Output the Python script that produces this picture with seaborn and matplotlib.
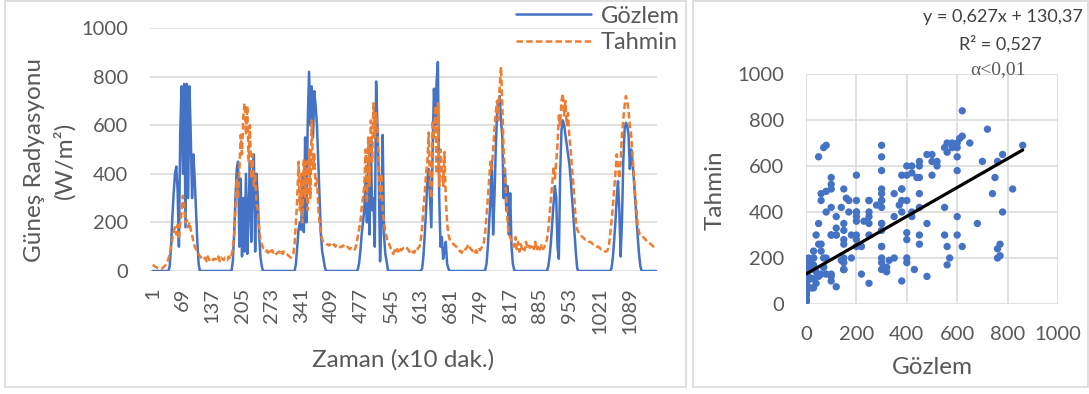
import numpy as np
import pandas as pd
import matplotlib
matplotlib.use("Agg")
import matplotlib.pyplot as plt
import seaborn as sns
from matplotlib.patches import Rectangle

# zaman ekseni: 10 dakikalik kayitlar, her 3. kayit alindi (8 gun x 48 nokta)
zaman = np.arange(1, 1152, 3)

# olculen (Gozlem) gunes radyasyonu, W/m2 - gun gun
gozlem = [
    # gun 1
    0, 0, 0, 0, 0, 0, 0, 0, 0, 0, 0, 0,
    0, 20, 100, 220, 320, 400, 430, 330, 100, 570, 760, 400,
    770, 180, 770, 300, 760, 560, 300, 480, 380, 250, 120, 30,
    0, 0, 0, 0, 0, 0, 0, 0, 0, 0, 0, 0,
    # gun 2
    0, 0, 0, 0, 0, 0, 0, 0, 0, 0, 0, 0,
    0, 40, 150, 300, 420, 450, 100, 380, 60, 300, 80, 400,
    70, 250, 450, 120, 350, 480, 80, 400, 300, 150, 60, 20,
    0, 0, 0, 0, 0, 0, 0, 0, 0, 0, 0, 0,
    # gun 3
    0, 0, 0, 0, 0, 0, 0, 0, 0, 0, 0, 0,
    0, 30, 100, 170, 200, 170, 400, 160, 550, 200, 620, 820,
    600, 760, 550, 740, 680, 600, 450, 300, 150, 80, 50, 15,
    0, 0, 0, 0, 0, 0, 0, 0, 0, 0, 0, 0,
    # gun 4
    0, 0, 0, 0, 0, 0, 0, 0, 0, 0, 0, 0,
    5, 30, 80, 150, 200, 250, 380, 200, 450, 150, 520, 250,
    300, 100, 780, 600, 400, 40, 200, 560, 150, 70, 40, 5,
    0, 0, 0, 0, 0, 0, 0, 0, 0, 0, 0, 0,
    # gun 5
    0, 0, 0, 0, 0, 0, 0, 0, 0, 0, 0, 0,
    0, 10, 60, 150, 250, 380, 420, 300, 180, 500, 750, 600,
    780, 860, 300, 100, 140, 50, 80, 120, 30, 10, 0, 0,
    0, 0, 0, 0, 0, 0, 0, 0, 0, 0, 0, 0,
    # gun 6
    0, 0, 0, 0, 0, 0, 0, 0, 0, 0, 0, 0,
    0, 5, 30, 100, 200, 300, 450, 150, 300, 500, 650, 700,
    720, 620, 550, 300, 420, 250, 350, 150, 320, 100, 30, 5,
    0, 0, 0, 0, 0, 0, 0, 0, 0, 0, 0, 0,
    # gun 7
    0, 0, 0, 0, 0, 0, 0, 0, 0, 0, 0, 0,
    0, 20, 60, 120, 200, 280, 350, 300, 100, 50, 400, 580,
    620, 600, 560, 520, 480, 440, 380, 300, 230, 150, 70, 10,
    0, 0, 0, 0, 0, 0, 0, 0, 0, 0, 0, 0,
    # gun 8
    0, 0, 0, 0, 0, 0, 0, 0, 0, 0, 0, 0,
    0, 10, 50, 120, 200, 300, 370, 250, 60, 200, 450, 580,
    610, 600, 560, 420, 500, 450, 380, 300, 220, 140, 70, 20,
    0, 0, 0, 0, 0, 0, 0, 0, 0, 0, 0, 0,
]

# model tahmini (Tahmin), W/m2
tahmin = [
    # gun 1
    25, 22, 18, 15, 12, 10, 12, 10, 15, 20, 25, 35,
    50, 70, 100, 130, 160, 180, 150, 190, 130, 200, 240, 310,
    260, 200, 210, 180, 200, 170, 150, 120, 100, 90, 75, 70,
    60, 55, 50, 45, 55, 40, 60, 45, 50, 55, 45, 50,
    # gun 2
    50, 45, 60, 40, 55, 50, 45, 55, 50, 45, 60, 50,
    65, 90, 150, 250, 380, 300, 420, 560, 480, 640, 690, 560,
    680, 450, 600, 380, 480, 350, 400, 280, 250, 180, 130, 110,
    95, 90, 80, 85, 75, 90, 80, 85, 75, 80, 70, 75,
    # gun 3
    80, 75, 85, 70, 80, 75, 70, 65, 60, 55, 60, 70,
    110, 200, 300, 450, 250, 400, 200, 460, 300, 450, 250, 500,
    300, 620, 420, 480, 350, 380, 260, 200, 150, 130, 120, 115,
    110, 110, 105, 110, 100, 105, 110, 100, 105, 100, 95, 100,
    # gun 4
    100, 105, 100, 95, 100, 95, 90, 95, 90, 85, 90, 110,
    140, 170, 200, 260, 300, 350, 500, 280, 550, 350, 620, 450,
    690, 550, 650, 580, 450, 300, 400, 250, 200, 160, 140, 120,
    110, 95, 80, 70, 85, 75, 90, 80, 95, 85, 90, 95,
    # gun 5
    95, 100, 90, 85, 70, 75, 80, 75, 90, 85, 95, 100,
    130, 180, 260, 320, 400, 450, 570, 350, 300, 620, 550, 680,
    400, 690, 350, 500, 420, 350, 490, 300, 200, 150, 130, 120,
    115, 110, 105, 100, 95, 90, 80, 75, 85, 80, 90, 95,
    # gun 6
    110, 100, 90, 85, 80, 70, 85, 75, 90, 85, 95, 100,
    120, 160, 230, 300, 380, 450, 420, 500, 580, 650, 700, 620,
    760, 840, 680, 500, 400, 300, 200, 150, 140, 120, 110, 100,
    140, 90, 120, 80, 110, 90, 100, 85, 120, 100, 110, 95,
    # gun 7
    100, 110, 90, 120, 85, 100, 80, 95, 110, 90, 100, 110,
    130, 170, 230, 300, 360, 430, 380, 450, 520, 640, 600, 700,
    730, 640, 700, 600, 650, 550, 500, 420, 360, 280, 200, 170,
    160, 150, 145, 140, 135, 130, 130, 125, 120, 120, 115, 110,
    # gun 8
    110, 105, 100, 100, 95, 90, 90, 85, 80, 80, 85, 100,
    150, 200, 260, 330, 400, 480, 430, 380, 450, 560, 620, 680,
    720, 700, 660, 600, 560, 480, 400, 320, 250, 190, 160, 150,
    150, 140, 135, 130, 120, 120, 115, 110, 105, 100, 95, 90,
]

# Excel trend cizgisi katsayilari
egim = 0.627
kesim = 130.37

zaman_etiketleri = [1, 69, 137, 205, 273, 341, 409, 477, 545, 613, 681, 749, 817, 885, 953, 1021, 1089]
eksen_degerleri = [0, 200, 400, 600, 800, 1000]

MAVI = "#4472C4"
TURUNCU = "#ED7D31"
GRI = "#595959"
IZGARA = "#D9D9D9"

sns.set_style("white")
plt.rcParams["font.family"] = ["Lato", "DejaVu Sans"]

df = pd.DataFrame({"Zaman": zaman, "Gözlem": gozlem, "Tahmin": tahmin})

fig = plt.figure(figsize=(10.89, 3.94), dpi=100)

# panel cerceveleri
fig.add_artist(Rectangle((5 / 1089, 7 / 394), 681 / 1089, 386 / 394, transform=fig.transFigure,
                         fill=False, edgecolor=IZGARA, lw=1.2))
fig.add_artist(Rectangle((693 / 1089, 7 / 394), 395 / 1089, 386 / 394, transform=fig.transFigure,
                         fill=False, edgecolor=IZGARA, lw=1.2))

# --- sol: zaman serisi ---
ax1 = fig.add_axes([150 / 1089, 1 - 271 / 394, 507 / 1089, 243 / 394])
sns.lineplot(data=df, x="Zaman", y="Gözlem", ax=ax1, color=MAVI, lw=1.8, label="Gözlem")
sns.lineplot(data=df, x="Zaman", y="Tahmin", ax=ax1, color=TURUNCU, lw=1.8, label="Tahmin")
ax1.lines[-1].set_dashes([2.6, 1.3])

ax1.set_xlim(-5, 1152)
ax1.set_ylim(0, 1000)
ax1.set_xticks(zaman_etiketleri)
ax1.set_xticklabels([str(t) for t in zaman_etiketleri], rotation=90)
ax1.set_yticks(eksen_degerleri)
ax1.tick_params(axis="x", length=0, pad=12, labelsize=14.5, labelcolor=GRI)
ax1.tick_params(axis="y", length=0, pad=16, labelsize=14.5, labelcolor=GRI)
ax1.grid(axis="y", color=IZGARA, lw=1.1)
ax1.grid(axis="x", visible=False)
for s in ax1.spines.values():
    s.set_visible(False)
ax1.set_xlabel("Zaman (x10 dak.)", fontsize=17.5, color=GRI, va="center")
ax1.xaxis.set_label_coords(0.5, -0.366)
ax1.set_ylabel("Güneş Radyasyonu\n(W/m²)", fontsize=17.5, color=GRI, va="center", ha="center",
               linespacing=1.4)
ax1.yaxis.set_label_coords(-0.198, 0.457)

leg = ax1.legend(loc="upper right", bbox_to_anchor=(689 / 1089, 1.01), bbox_transform=fig.transFigure,
                 frameon=False, fontsize=17, handlelength=3.2, labelspacing=0.25, borderaxespad=0,
                 handletextpad=0.4)
for t in leg.get_texts():
    t.set_color(GRI)

# --- sag: sacilim grafigi ---
ax2 = fig.add_axes([806 / 1089, 1 - 304 / 394, 252 / 1089, 230 / 394])
sns.scatterplot(data=df, x="Gözlem", y="Tahmin", ax=ax2, color=MAVI, s=28, edgecolor="none", zorder=3)
x_trend = np.array([0, df["Gözlem"].max()])
ax2.plot(x_trend, egim * x_trend + kesim, color="black", lw=2.3, zorder=4)

ax2.set_xlim(0, 1000)
ax2.set_ylim(0, 1000)
ax2.set_xticks(eksen_degerleri)
ax2.set_yticks(eksen_degerleri)
ax2.tick_params(axis="both", length=0, pad=16, labelsize=14.5, labelcolor=GRI)
ax2.grid(True, color=IZGARA, lw=1.1)
for s in ax2.spines.values():
    s.set_visible(False)
ax2.set_xlabel("Gözlem", fontsize=17.5, color=GRI, va="center")
ax2.xaxis.set_label_coords(0.5, -0.274)
ax2.set_ylabel("Tahmin", fontsize=17.5, color=GRI, va="center", ha="center")
ax2.yaxis.set_label_coords(-0.361, 0.496)

fig.text(1083 / 1089, 1 - 17 / 394, "y = 0,627x + 130,37", ha="right", va="center",
         fontsize=13, color="#404040")
fig.text(1000 / 1089, 1 - 44 / 394, "R² = 0,527", ha="center", va="center",
         fontsize=13, color="#404040")
fig.text(998 / 1089, 1 - 70 / 394, "α<0,01", ha="center", va="center",
         fontsize=14, color=GRI, family=["Liberation Serif", "DejaVu Serif"])

fig.savefig("out.png", dpi=100)
